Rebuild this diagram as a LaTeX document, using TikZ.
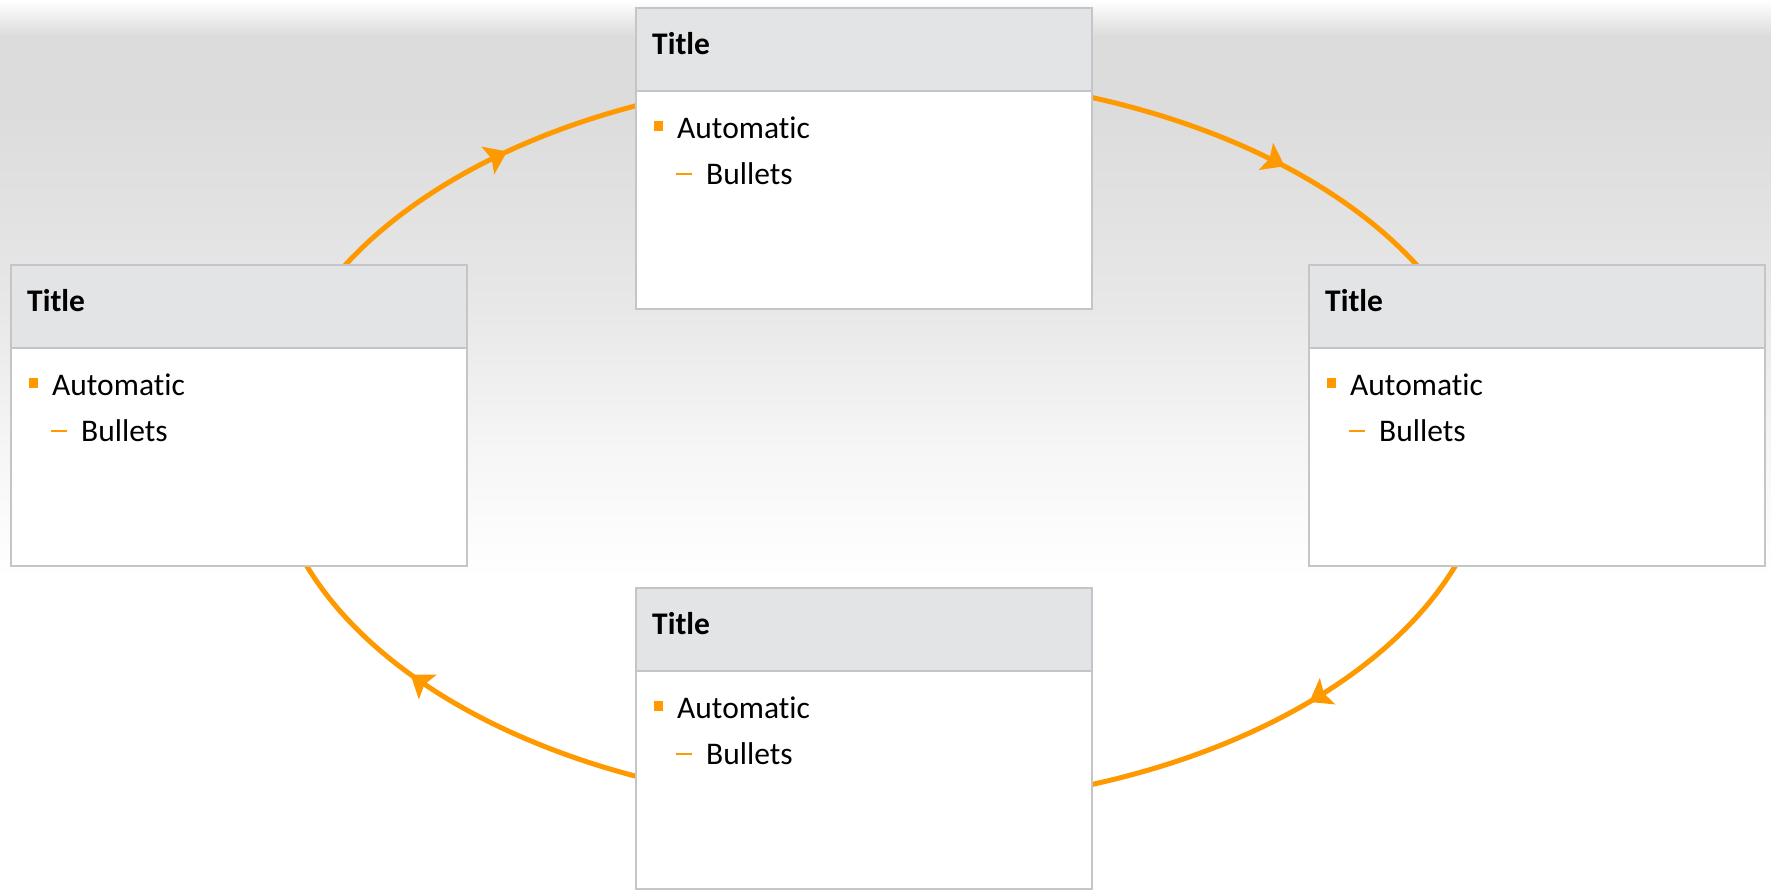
\documentclass[tikz,border=0pt]{standalone}
\usepackage{fontspec}
\setmainfont{Carlito}[Ligatures={NoCommon,NoContextual}]
\usetikzlibrary{arrows.meta,decorations.markings,calc}
\definecolor{orng}{HTML}{FF9900}
\definecolor{bordergray}{HTML}{C4C5C9}
\definecolor{headgray}{HTML}{E3E4E6}
\definecolor{bgA}{HTML}{DCDCDC}
\definecolor{bgB}{HTML}{E7E7E7}
\definecolor{bgC}{HTML}{F6F6F6}
\tikzset{
  bodybox/.style={draw=bordergray, line width=2pt, fill=white, minimum width=456pt, minimum height=301pt, inner sep=0pt, outer sep=0pt, anchor=north west},
  headbox/.style={draw=bordergray, line width=2pt, fill=headgray, minimum width=456pt, minimum height=83pt, inner sep=0pt, outer sep=0pt, anchor=north west},
  titletext/.style={font=\fontsize{31.5}{38}\selectfont\bfseries, inner sep=0pt, anchor=base west},
  bodytext/.style={font=\fontsize{31.5}{38}\selectfont, inner sep=0pt, anchor=base west},
  sqbullet/.style={fill=orng, minimum size=9.5pt, inner sep=0pt},
  dashbullet/.style={fill=orng, minimum width=16pt, minimum height=2.8pt, inner sep=0pt},
  flow/.style={draw=orng, line width=5pt},
  flowarrow/.style={postaction={decorate}, decoration={markings, mark=at position #1 with {\arrow{Stealth[length=21pt,width=30pt,inset=4pt,color=orng]}}}},
}
\newcommand\cyclebox[3]{%
  \node[bodybox] (#1) at (#2,#3) {};
  \node[headbox] (#1-head) at (#2,#3) {};
  \node[titletext] (#1-title) at (#2+16,#3-47) {Title};
  \node[sqbullet] (#1-sq) at (#2+22.5,#3-118) {};
  \node[bodytext] (#1-l1) at (#2+41,#3-130.5) {Automatic};
  \node[dashbullet] (#1-dash) at (#2+48,#3-166) {};
  \node[bodytext] (#1-l2) at (#2+70,#3-176.5) {Bullets};
}
\begin{document}
\begin{tikzpicture}[x=1pt,y=1pt]
\useasboundingbox (0,0) rectangle (1771,891);
% background
\fill[white] (0,0) rectangle (1771,891);
\shade[top color=white, bottom color=bgA] (0,855) rectangle (1771,891.5);
\fill[bgA] (0,780) rectangle (1771,855.5);
\shade[top color=bgA, bottom color=bgB] (0,591) rectangle (1771,780.5);
\shade[top color=bgB, bottom color=bgC] (0,441) rectangle (1771,591.5);
\shade[top color=bgC, bottom color=white] (0,311) rectangle (1771,441.5);
% cycle
\coordinate (C) at (881,450);
\draw[flow, flowarrow=0.58] ($(C)+(152.76:611 and 366)$) arc[start angle=152.76, end angle=112.14, x radius=611, y radius=366];
\draw[flow, flowarrow=0.555] ($(C)+(71.3:611 and 366)$) arc[start angle=71.3, end angle=27.24, x radius=611, y radius=366];
\draw[flow, flowarrow=0.46] ($(C)+(-18.47:611 and 366)$) arc[start angle=-18.47, end angle=-71.3, x radius=611, y radius=366];
\draw[flow, flowarrow=0.62] ($(C)+(-112.14:611 and 366)$) arc[start angle=-112.14, end angle=-161.53, x radius=611, y radius=366];
% boxes
\cyclebox{top}{636}{883}
\cyclebox{left}{11}{626}
\cyclebox{right}{1309}{626}
\cyclebox{bottom}{636}{303}
\end{tikzpicture}
\end{document}
